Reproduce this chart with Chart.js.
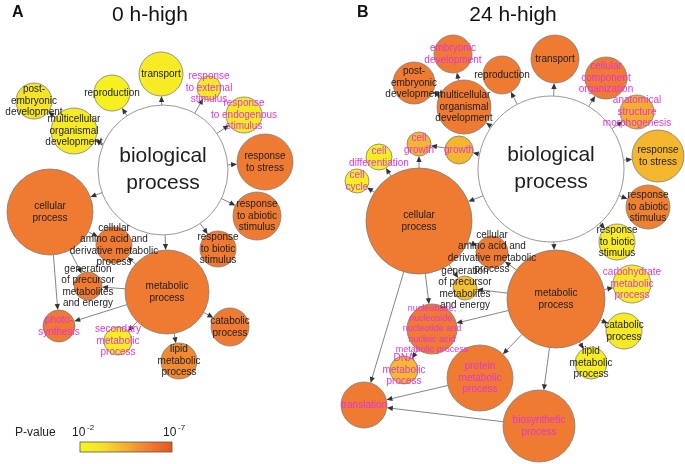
<!DOCTYPE html>
<html>
<head>
<meta charset="utf-8">
<script src="https://cdn.jsdelivr.net/npm/chart.js@4"></script>
<style>
  body { margin: 0; background: #fff; }
  #wrap { width: 685px; height: 464px; }
</style>
</head>
<body>
<div id="wrap"><canvas id="goChart"></canvas></div>
<script>
// ---- panel A : 0 h-high ----
var namesA = ['biological\nprocess', 'transport', 'reproduction', 'post-\nembryonic\ndevelopment',
  'multicellular\norganismal\ndevelopment', 'response\nto external\nstimulus', 'response\nto endogenous\nstimulus',
  'response\nto stress', 'response\nto abiotic\nstimulus', 'response\nto biotic\nstimulus', 'cellular\nprocess',
  'cellular\namino acid and\nderivative metabolic\nprocess', 'generation\nof precursor\nmetabolites\nand energy',
  'metabolic\nprocess', 'photo-\nsynthesis', 'secondary\nmetabolic\nprocess', 'lipid\nmetabolic\nprocess',
  'catabolic\nprocess']
var xA = [163, 161, 112, 34, 74, 209, 244, 265, 257, 218, 50, 114, 88, 167, 59, 118, 179, 230]
var yA = [170, 74, 93, 101, 131, 88, 115, 162, 216, 249, 212, 245, 286, 292, 326, 341, 361, 327]
var sizeA = [65, 22, 18, 18, 23, 12, 18, 28, 24, 18, 43, 18, 14, 42, 16, 14, 18, 19]
var logpA = [null, 2.6, 2.3, 3.0, 2.7, 2.8, 2.7, 5.8, 5.8, 5.8, 5.8, 5.8, 5.8, 5.8, 5.8, 2.5, 5.4, 5.8]
var pinkA = [5, 6, 14, 15]
var edgesA = [[0,1],[0,2],[0,4],[0,5],[0,6],[0,7],[0,8],[0,9],[0,13],[0,10],[4,3],
  [10,11],[10,12],[10,14],[13,11],[13,12],[13,14],[13,15],[13,16],[13,17]]

// ---- panel B : 24 h-high ----
var namesB = ['biological\nprocess', 'embryonic\ndevelopment', 'post-\nembryonic\ndevelopment', 'reproduction',
  'transport', 'cellular\ncomponent\norganization', 'multicellular\norganismal\ndevelopment',
  'anatomical\nstructure\nmorphogenesis', 'response\nto stress', 'cell\ngrowth', 'growth', 'cell\ndifferentiation',
  'cell\ncycle', 'response\nto abiotic\nstimulus', 'response\nto biotic\nstimulus', 'cellular\nprocess',
  'cellular\namino acid and\nderivative metabolic\nprocess', 'generation\nof precursor\nmetabolites\nand energy',
  'metabolic\nprocess', 'carbohydrate\nmetabolic\nprocess', 'catabolic\nprocess', 'lipid\nmetabolic\nprocess',
  'nucleobase,\nnucleoside,\nnucleotide and\nnucleic acid\nmetabolic process', 'DNA\nmetabolic\nprocess',
  'protein\nmetabolic\nprocess', 'translation', 'biosynthetic\nprocess']
var xB = [551, 453, 414, 502, 555, 606, 464, 637, 658, 419, 459, 379, 357, 648, 617, 419, 492, 465, 556, 632, 624, 591, 432, 404, 480, 364, 539]
var yB = [169, 54, 83, 75, 59, 78, 107, 112, 156, 144, 150, 157, 181, 207, 242, 221, 252, 288, 299, 284, 331, 363, 329, 370, 378, 405, 426]
var sizeB = [73, 19, 21, 19, 24, 21, 27, 17, 26, 12, 14, 13, 12, 22, 18, 53, 16, 12, 49, 19, 18, 16, 25, 14, 33, 23, 36]
var logpB = [null, 5.8, 5.8, 5.8, 5.8, 5.8, 5.8, 4.5, 4.3, 4.3, 4.3, 2.4, 2.4, 5.6, 2.6, 5.8, 5.8, 4.0, 5.8, 2.6, 2.7, 2.5, 5.8, 4.2, 5.8, 5.8, 5.8]
var pinkB = [1, 5, 7, 9, 10, 11, 12, 19, 22, 23, 24, 25, 26]
var edgesB = [[0,6],[0,3],[0,4],[0,5],[0,7],[0,8],[0,13],[0,14],[0,18],[0,15],[0,10],
  [6,2],[6,1],[10,9],[15,9],[15,11],[15,12],[15,16],[15,17],[15,22],[15,25],
  [18,16],[18,17],[18,22],[18,24],[18,26],[18,19],[18,20],[18,21],[22,23],[24,25],[26,25]]

// colour scale, -log10(p) from 2 to 7
var pStops = ['#f7f51e', '#f5e02a', '#f3ae2e', '#ef7c33', '#e6561a']

function hexRgb(h) {
  return [parseInt(h.substr(1,2),16), parseInt(h.substr(3,2),16), parseInt(h.substr(5,2),16)]
}
function pColor(v) {
  if (v == null) return '#ffffff'
  var t = Math.max(0, Math.min(1, (v - 2) / 5)) * (pStops.length - 1)
  var i = Math.min(Math.floor(t), pStops.length - 2)
  var f = t - i
  var a = hexRgb(pStops[i]), b = hexRgb(pStops[i+1])
  return 'rgb(' + a.map(function(c, k){ return Math.round(c + (b[k]-c)*f) }).join(',') + ')'
}

function points(xs, ys, rs) {
  return xs.map(function(x, i){ return { x: x, y: ys[i], r: rs[i] } })
}

var panels = [
  { names: namesA, logp: logpA, pink: pinkA, edges: edgesA },
  { names: namesB, logp: logpB, pink: pinkB, edges: edgesB }
]

var FONT = '"Liberation Sans", Arial, Helvetica, sans-serif'

var networkPlugin = {
  id: 'network',
  beforeDatasetsDraw: function(chart) {
    var ctx = chart.ctx
    ctx.save()
    ctx.strokeStyle = '#666'
    ctx.fillStyle = '#333'
    ctx.lineWidth = 0.8
    panels.forEach(function(p, di) {
      var pts = chart.getDatasetMeta(di).data
      var raw = chart.data.datasets[di].data
      p.edges.forEach(function(e) {
        var a = pts[e[0]], b = pts[e[1]]
        var ra = raw[e[0]].r, rb = raw[e[1]].r
        var dx = b.x - a.x, dy = b.y - a.y
        var d = Math.sqrt(dx*dx + dy*dy)
        var ux = dx / d, uy = dy / d
        var sx = a.x + ux*ra, sy = a.y + uy*ra
        var ex = b.x - ux*rb, ey = b.y - uy*rb
        ctx.beginPath()
        ctx.moveTo(sx, sy)
        ctx.lineTo(ex - ux*4, ey - uy*4)
        ctx.stroke()
        ctx.beginPath()
        ctx.moveTo(ex, ey)
        ctx.lineTo(ex - ux*6 - uy*2.6, ey - uy*6 + ux*2.6)
        ctx.lineTo(ex - ux*6 + uy*2.6, ey - uy*6 - ux*2.6)
        ctx.closePath()
        ctx.fill()
      })
    })
    ctx.restore()
  },
  afterDatasetsDraw: function(chart) {
    var ctx = chart.ctx
    ctx.save()
    ctx.textAlign = 'center'
    ctx.textBaseline = 'middle'
    panels.forEach(function(p, di) {
      var pts = chart.getDatasetMeta(di).data
      p.names.forEach(function(name, i) {
        var lines = name.split('\n')
        var size = 10, lh = 11.5
        if (i == 0) { size = 21; lh = 27 }
        if (lines.length > 4) { size = 9; lh = 10.2 }
        ctx.font = size + 'px ' + FONT
        ctx.fillStyle = p.pink.indexOf(i) >= 0 ? '#e433dc' : '#1e1e1e'
        var y0 = pts[i].y - (lines.length - 1) * lh / 2
        lines.forEach(function(l, k) { ctx.fillText(l, pts[i].x, y0 + k*lh) })
      })
    })
    ctx.restore()
  },
  afterDraw: function(chart) {
    var ctx = chart.ctx
    ctx.save()
    ctx.fillStyle = '#111'
    ctx.textBaseline = 'alphabetic'
    ctx.font = 'bold 16px ' + FONT
    ctx.fillText('A', 12, 17)
    ctx.fillText('B', 357, 17)
    ctx.textAlign = 'center'
    ctx.font = '21px ' + FONT
    ctx.fillText('0 h-high', 150, 21)
    ctx.fillText('24 h-high', 513, 21)

    // colour key
    ctx.textAlign = 'left'
    ctx.font = '12px ' + FONT
    ctx.fillStyle = '#222'
    ctx.fillText('P-value', 15, 436)
    ctx.fillText('10', 72, 436)
    ctx.fillText('10', 163, 436)
    ctx.font = '8px ' + FONT
    ctx.fillText('-2', 87, 430)
    ctx.fillText('-7', 178, 430)
    var g = ctx.createLinearGradient(80, 0, 172, 0)
    pStops.forEach(function(c, i){ g.addColorStop(i / (pStops.length - 1), c) })
    ctx.fillStyle = g
    ctx.fillRect(80, 442, 92, 10)
    ctx.strokeStyle = '#555'
    ctx.lineWidth = 0.8
    ctx.strokeRect(80, 442, 92, 10)
    ctx.restore()
  }
}

new Chart(document.getElementById('goChart'), {
  type: 'bubble',
  data: {
    datasets: [
      { label: '0 h-high', data: points(xA, yA, sizeA), backgroundColor: logpA.map(pColor),
        borderColor: '#7d7d7d', borderWidth: 0.8, clip: false },
      { label: '24 h-high', data: points(xB, yB, sizeB), backgroundColor: logpB.map(pColor),
        borderColor: '#7d7d7d', borderWidth: 0.8, clip: false }
    ]
  },
  options: {
    responsive: true,
    maintainAspectRatio: false,
    animation: false,
    events: [],
    layout: { padding: 0, autoPadding: false },
    scales: {
      x: { type: 'linear', min: 0, max: 685, display: false },
      y: { type: 'linear', min: 0, max: 464, reverse: true, display: false }
    },
    plugins: { legend: { display: false }, tooltip: { enabled: false } }
  },
  plugins: [networkPlugin]
})
</script>
</body>
</html>
